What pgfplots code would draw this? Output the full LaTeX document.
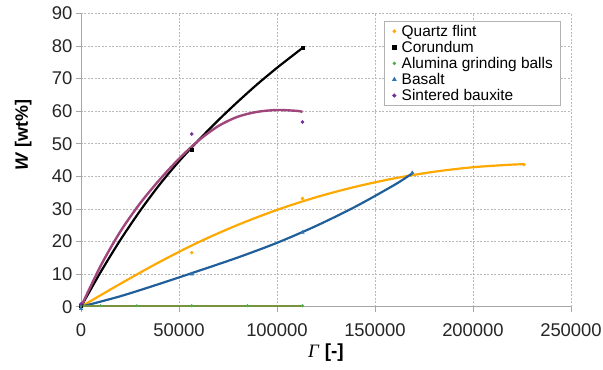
\documentclass[border=0pt]{standalone}
\usepackage{fontspec}
\setmainfont{Liberation Sans}
\newfontfamily\seriffont{Liberation Serif}
\usepackage{pgfplots}
\pgfplotsset{compat=1.18}
\definecolor{qorange}{HTML}{FFA800}
\definecolor{bblue}{HTML}{215F9A}
\definecolor{bblue2}{HTML}{2E75B6}
\definecolor{agreen}{HTML}{77933C}
\definecolor{agreen2}{HTML}{4CB050}
\definecolor{spurple}{HTML}{7030A0}
\definecolor{smag}{HTML}{A0467C}
\begin{document}
\begin{tikzpicture}
\path[use as bounding box] (-81bp,-63.3bp) rectangle (522bp,306.7bp);
\begin{axis}[
  scale only axis, width=490bp, height=293.3bp,
  xmin=0, xmax=250000, ymin=0, ymax=90,
  xtick={0,50000,100000,150000,200000,250000},
  xticklabels={0,50000,100000,150000,200000,250000},
  ytick={0,10,...,90},
  scaled x ticks=false,
  /pgf/number format/assume math mode=true,
  tick label style={font=\fontsize{18.5}{20}\selectfont, text=black!85},
  xticklabel style={yshift=-8bp},
  axis lines*=left,
  axis line style={gray!70, line width=0.8bp},
  tick align=outside,
  major tick length=5bp,
  tick style={gray!70, line width=0.8bp},
  grid=major,
  major grid style={gray!55, dash pattern=on 2bp off 1.5bp, line width=0.7bp},
  clip=false,
  xlabel={{\seriffont\itshape Γ} \textbf{[-]}},
  xlabel style={at={(axis description cs:0.5,-0.155)}, anchor=center, font=\fontsize{19}{21}\selectfont},
  ylabel={\textbf{\textit{W} [wt\%]}},
  ylabel style={at={(axis description cs:-0.118,0.585)}, anchor=center, font=\fontsize{18}{20}\selectfont},
  legend style={at={(axis description cs:0.98,0.974)}, anchor=north east,
    draw=gray!60, fill=white, line width=0.8bp,
    font=\fontsize{15.5}{16}\selectfont, row sep=-0.6bp,
    inner xsep=6bp, inner ysep=1.5bp},
  legend cell align=left,
  legend image code/.code={\path (-4bp,0bp) (5bp,0bp); \draw[#1] plot coordinates {(0bp,0bp)};},
]
% trend curves
\addplot[forget plot, qorange, line width=2.2bp, smooth] coordinates {
 (0,0) (20000,7.0) (40000,13.7) (60000,19.8) (80000,25.1) (100000,29.7) (120000,33.6) (140000,36.8) (160000,39.4) (180000,41.4) (200000,42.8) (220000,43.6) (226000,43.7)};
\addplot[forget plot, bblue, line width=2.2bp, smooth] coordinates {
 (0,0) (20000,3.2) (40000,7.0) (60000,11.0) (80000,15.1) (100000,19.6) (120000,24.8) (140000,30.7) (160000,37.4) (169000,40.9)};
\addplot[forget plot, agreen, line width=2.2bp] coordinates {(0,0.3) (113000,0.3)};
\addplot[forget plot, black, line width=2.2bp, smooth] coordinates {
 (0,0) (10000,10.6) (20000,20.4) (30000,29.3) (40000,37.4) (50000,44.6) (60000,51.1) (70000,57.2) (80000,62.9) (90000,68.3) (100000,73.3) (110000,78.0) (113000,79.4)};
\addplot[forget plot, smag, line width=2.4bp, smooth] coordinates {
 (0,0) (10000,12.5) (20000,23.0) (30000,31.6) (40000,38.9) (50000,45.4) (60000,51.0) (70000,55.4) (80000,58.3) (90000,59.8) (100000,60.35) (110000,60.1) (113000,59.8)};
% data points
\addplot[only marks, mark=*, mark size=1.5bp, qorange, mark options={draw=qorange, fill=qorange}] coordinates {
 (0,0) (56500,16.6) (113000,33.2) (226000,43.6)};
\addlegendentry{Quartz flint}
\addplot[only marks, mark=square*, mark size=1.6bp, black] coordinates {
 (0,0.2) (56500,48.1) (113000,79.5)};
\addlegendentry{Corundum}
\addplot[only marks, mark=*, mark size=1.3bp, agreen2, mark options={draw=agreen2, fill=agreen2}] coordinates {
 (0,0.3) (10000,0.3) (28500,0.3) (56500,0.3) (85000,0.3) (113000,0.3)};
\addlegendentry{Alumina grinding balls}
\addplot[only marks, mark=triangle*, mark size=2bp, bblue2, mark options={draw=bblue2, fill=bblue2}] coordinates {
 (0,-0.6) (56500,10) (113000,22.8) (169000,41.1)};
\addlegendentry{Basalt}
\addplot[only marks, mark=*, mark size=1.6bp, spurple, mark options={draw=spurple, fill=spurple}] coordinates {
 (0,0.8) (56500,53) (113000,56.7)};
\addlegendentry{Sintered bauxite}
\end{axis}
\end{tikzpicture}
\end{document}
